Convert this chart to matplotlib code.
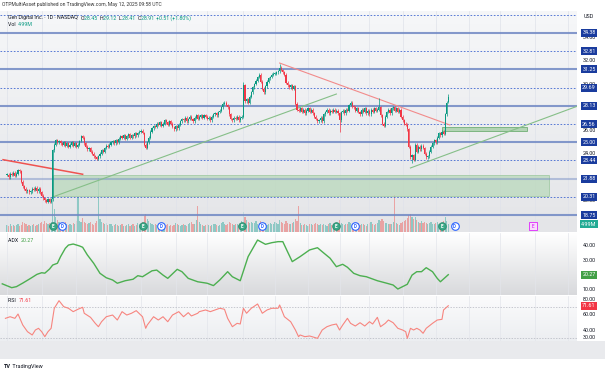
import numpy as np
import matplotlib
matplotlib.use("Agg")
import matplotlib.pyplot as plt
from matplotlib.colors import LinearSegmentedColormap
from matplotlib.patches import Rectangle

# ---------------- data ----------------
month_labels = ["Apr", "May", "Jun", "Jul", "Aug", "Sep", "Oct", "Nov", "Dec", "2025",
                "Feb", "Mar", "Apr", "May", "Jun", "Jul", "Aug", "Sep"]
month_start = [0, 22, 44, 63, 85, 107, 127, 150, 170, 191, 211, 230, 251, 272, 293, 313, 335, 356]

closes = [
    22.2, 22.0, 22.3, 22.2, 22.4, 22.1, 22.3, 22.6, 22.5,
    21.6, 21.2, 21.0, 20.8,
    20.9, 20.7, 20.8, 21.0, 20.9, 21.1, 20.8, 21.0, 20.7,
    20.4, 20.2, 20.0, 19.9, 20.1, 19.9, 20.1,
    24.3,
    24.8, 25.2, 25.0, 25.1, 24.9,
    24.8, 25.0, 24.7, 24.9, 24.6, 24.8, 25.0, 24.7, 24.9, 24.6, 24.8, 25.1,
    25.5, 25.4,
    24.9, 24.6, 24.4, 24.5, 24.2, 24.0, 23.8, 23.7, 23.6,
    23.8, 24.0, 24.3, 24.2, 24.5, 24.7, 24.6, 24.8, 25.0,
    25.1, 24.9, 25.2, 25.0, 25.3, 25.5,
    25.4, 25.6, 25.3, 25.5, 25.7, 25.4, 25.6, 25.5, 25.8, 25.6, 25.8,
    25.9, 26.0, 25.8,
    24.8, 24.5,
    25.0, 25.4, 25.9,
    26.2, 26.4, 26.3, 26.6, 26.5, 26.7, 26.4, 26.6, 26.9, 26.7,
    26.5, 26.8, 26.6, 26.3, 26.1, 26.4, 26.2, 26.5, 26.8, 27.0,
    26.9, 27.1, 26.8, 27.0, 27.2, 27.0, 26.8, 27.1, 27.3, 27.0,
    27.2, 27.3,
    27.1, 27.3, 27.2, 27.0, 27.1, 26.9, 27.2, 27.4, 27.5, 27.3, 27.6, 27.7,
    28.0, 28.3, 28.4, 28.2, 28.0,
    27.4, 27.0, 26.9,
    27.1, 27.0, 27.2, 26.9, 27.1, 27.2,
    29.9,
    28.5, 28.7, 28.4, 28.9,
    29.3, 29.7, 30.0, 30.3, 30.6, 30.8,
    30.2, 29.6, 29.3,
    29.8, 30.2, 30.5, 30.6, 30.8, 30.9,
    30.9, 31.0, 31.1, 31.4,
    31.2, 31.0, 30.8,
    30.1, 29.9, 29.7, 29.9, 29.6, 29.8,
    28.3, 27.8,
    27.7, 27.9, 27.6, 27.8, 27.5, 27.7, 27.9, 27.6, 27.8, 27.5,
    27.2, 27.0, 26.8, 26.9, 27.1, 26.8,
    27.4, 27.6, 27.8, 27.5, 27.7, 27.6, 27.8, 27.6, 27.7, 27.5,
    26.9,
    27.6, 27.7, 27.5, 27.8, 27.7,
    28.2, 28.4, 28.1, 28.0,
    27.7, 27.9, 27.6, 27.4, 27.8, 27.6, 27.9, 27.5, 27.7, 27.4, 27.8, 27.6, 27.9, 27.7, 27.8,
    28.0,
    27.3, 26.6, 26.4,
    27.2, 27.6, 27.8, 27.5, 27.9, 28.0, 27.7, 27.9, 27.6, 27.8,
    27.2, 26.9, 26.6, 26.5,
    26.1, 24.6, 23.7, 23.9, 23.5, 24.8, 24.2, 24.6, 24.4, 24.7, 24.5,
    24.0, 23.7, 23.8, 24.2,
    24.6, 24.9, 25.2, 25.0, 25.4,
    25.8, 25.6, 25.9, 25.7,
    27.4, 28.4, 28.91,
]
last_open = 28.45
special_high = {150: 30.2, 173: 31.75, 236: 28.8, 280: 29.12}
special_low = {211: 25.86, 257: 23.2, 280: 28.41}

volume = [
    4.2, 3.8, 5.1, 3.5, 4.6, 3.9, 4.4, 5.3, 3.7, 4.1, 6.2, 5.4, 4.8, 3.9, 4.5, 3.6, 4.2, 5.0, 3.8, 4.3,
    4.9, 5.6, 6.1, 5.2, 6.8, 5.5, 4.7, 5.9, 6.4, 35.0, 14.2, 9.5, 7.8, 6.3, 5.9, 5.1, 4.8, 6.0, 5.3, 4.6,
    5.2, 4.4, 5.8, 4.9, 6.6, 22.0, 7.1, 6.3, 8.5, 6.2, 5.7, 4.9, 5.5, 6.0, 5.1, 4.6, 5.8, 6.7, 34.0, 8.2,
    6.1, 5.4, 4.8, 5.6, 4.3, 5.0, 4.7, 3.9, 4.5, 5.2, 4.1, 3.8, 4.6, 5.3, 4.0, 3.6, 4.4, 5.1, 3.9, 4.2,
    4.8, 3.7, 4.5, 5.6, 4.9, 5.3, 6.2, 9.8, 11.5, 8.4, 6.9, 5.8, 5.2, 4.6, 5.0, 4.3, 4.7, 3.9, 4.4, 4.1,
    3.8, 4.5, 5.2, 4.0, 4.6, 3.7, 4.3, 5.4, 4.8, 4.1, 3.9, 4.6, 5.1, 4.4, 3.8, 4.7, 5.5, 6.0, 4.9, 5.3,
    7.2, 16.0, 6.1, 4.8, 4.2, 3.9, 4.5, 5.0, 4.3, 3.7, 4.1, 4.8, 5.2, 4.4, 3.9, 4.6, 5.8, 6.3, 5.1, 4.5,
    4.9, 6.4, 5.5, 4.7, 4.2, 4.8, 5.1, 4.4, 5.6, 6.8, 12.5, 9.2, 7.4, 6.1, 5.7, 6.3, 5.4, 5.9, 6.6, 5.2,
    5.8, 6.7, 5.3, 4.9, 5.5, 4.6, 5.0, 5.7, 4.8, 5.2, 6.1, 5.4, 4.9, 7.3, 6.2, 5.6, 5.1, 6.8, 5.9, 5.3,
    4.8, 5.6, 6.3, 8.1, 6.9, 16.0, 5.4, 4.6, 4.1, 5.0, 4.4, 3.9, 4.7, 5.3, 4.2, 4.8, 5.5, 4.9, 4.3, 5.1,
    4.6, 5.2, 4.4, 3.9, 4.7, 5.4, 4.1, 4.8, 5.6, 4.3, 5.0, 7.8, 5.9, 5.1, 4.5, 4.9, 5.3, 6.2, 5.7, 4.8,
    5.1, 4.4, 4.9, 5.5, 4.2, 4.7, 5.3, 4.5, 4.0, 4.8, 5.6, 6.4, 5.2, 4.6, 5.0, 5.8, 7.5, 6.9, 8.2, 6.6,
    5.4, 5.9, 4.8, 5.3, 4.9, 6.1, 23.0, 5.7, 5.0, 4.6, 5.8, 6.3, 6.9, 7.6, 8.8, 10.4, 11.2, 9.6, 8.1, 9.4,
    7.2, 6.5, 5.9, 6.8, 5.6, 6.1, 5.4, 5.0, 5.7, 6.2, 5.3, 4.8, 5.5, 6.0, 5.1, 4.7, 5.9, 6.6, 9.5, 6.8,
    4.99,
]

adx_day = [-3, 3, 6, 10, 15, 19, 22, 24, 27, 29, 32, 34, 37, 39, 42, 46, 48, 51, 55, 59, 63, 67, 70,
           75, 80, 83, 86, 92, 95, 99, 102, 108, 111, 115, 121, 127, 131, 135, 140, 143, 148, 153,
           159, 164, 168, 172, 175, 178, 181, 186, 192, 197, 200, 205, 209, 213, 216, 220, 224, 228,
           235, 241, 245, 248, 254, 257, 260, 263, 266, 270, 273, 275, 280]
adx_val = [14.1, 11.5, 12.2, 14.6, 17.8, 20.5, 21.6, 21.3, 24.1, 26.8, 28.0, 32.5, 38.1, 40.3, 41.0,
           39.7, 38.8, 33.6, 28.0, 21.2, 18.2, 16.7, 14.5, 16.2, 17.2, 19.6, 18.9, 22.9, 23.4, 20.0,
           17.8, 23.9, 22.3, 17.8, 15.5, 14.5, 12.9, 16.7, 22.3, 18.9, 16.2, 32.5, 43.7, 40.8, 41.9,
           42.6, 42.6, 35.8, 29.1, 32.5, 37.0, 38.5, 35.8, 31.4, 25.7, 27.3, 25.3, 21.2, 19.6, 18.9,
           16.2, 14.5, 13.3, 10.6, 13.8, 20.0, 22.3, 22.3, 25.0, 22.3, 17.8, 15.5, 20.27]

rsi_day = [-1, 2, 5, 7, 10, 13, 16, 18, 20, 22, 24, 26, 28, 30, 33, 36, 39, 42, 45, 48, 49, 53, 56,
           58, 60, 63, 67, 70, 73, 76, 79, 82, 86, 88, 89, 93, 96, 99, 102, 105, 109, 112, 115, 117,
           121, 122, 126, 129, 132, 135, 138, 140, 143, 146, 148, 150, 152, 155, 159, 162, 165, 168,
           172, 173, 176, 180, 183, 185, 186, 189, 192, 195, 197, 200, 203, 206, 209, 211, 213, 216,
           218, 221, 224, 227, 230, 232, 235, 237, 240, 242, 245, 248, 251, 253, 254, 256, 258, 260,
           262, 264, 266, 270, 273, 276, 277, 280]
rsi_val = [55.2, 57.3, 55.2, 60.8, 46.5, 37.8, 33.5, 40.0, 42.2, 37.8, 31.3, 37.8, 42.2, 68.3, 78.2,
           70.4, 68.3, 63.9, 67.0, 69.6, 61.8, 56.5, 48.7, 44.3, 50.8, 57.3, 59.5, 53.0, 63.9, 59.5,
           61.8, 65.2, 57.3, 42.2, 46.5, 57.3, 53.0, 57.3, 50.8, 59.5, 63.9, 57.3, 62.6, 58.3, 61.8,
           63.9, 66.1, 63.9, 66.1, 68.3, 67.0, 55.2, 44.3, 48.7, 47.8, 68.3, 61.8, 68.3, 73.9, 61.8,
           66.1, 68.3, 68.3, 72.6, 57.3, 50.8, 40.0, 31.3, 33.5, 31.3, 32.2, 30.4, 29.1, 40.0, 44.3,
           46.5, 47.8, 40.0, 46.5, 55.2, 48.7, 45.2, 49.5, 45.2, 50.8, 47.8, 56.5, 44.3, 48.7, 53.0,
           49.5, 42.2, 40.0, 37.8, 29.1, 42.2, 40.0, 42.2, 40.0, 35.7, 42.2, 48.7, 53.0, 53.9, 66.1,
           71.61]

solid_levels = [34.38, 31.25, 28.13, 25.00, 21.88, 18.75]
dashed_levels = [32.81, 29.69, 26.56, 23.44, 20.31]
top_dashed_level = 35.94
price_ticks = [20, 22, 24, 26, 28, 30, 32, 34]
earn_day = [29, 86, 149, 209, 276]
div_day = [35, 98, 162, 221, 284]
future_earn_day = [334]
zone_big = (29, 344, 20.35, 22.2)
zone_small = (276, 330, 25.95, 26.3)
trend_down = ([173, 281], [31.8, 26.48])
trend_down_left = ([-2.5, 48], [23.5, 22.25])
trend_up_a = ([29, 209], [20.3, 29.14])
trend_up_b = ([256, 362], [22.79, 28.1])

# ---------------- layout ----------------
W, H = 605, 374
plt.rcParams['font.family'] = ['Roboto', 'DejaVu Sans']
fig = plt.figure(figsize=(W / 100, H / 100), dpi=100)
fig.patch.set_facecolor('white')


def add_ax(l, t, r, b):
    a = fig.add_axes([l / W, 1 - b / H, (r - l) / W, (b - t) / H])
    for s in a.spines.values():
        s.set_visible(False)
    a.set_xticks([])
    a.set_yticks([])
    return a


PX_BAR = 1.576
X0 = 7.0
PANE_R = 577
xlim = (-X0 / PX_BAR, (PANE_R - X0) / PX_BAR)


def gradient(a, top, bottom):
    cmap = LinearSegmentedColormap.from_list('g', [bottom, top])
    xl, yl = a.get_xlim(), a.get_ylim()
    a.imshow(np.linspace(0, 1, 256).reshape(-1, 1), aspect='auto', cmap=cmap, origin='lower',
             extent=(xl[0], xl[1], yl[0], yl[1]), zorder=0)
    a.set_xlim(xl)
    a.set_ylim(yl)


# time-axis band
fig.patches.append(Rectangle((0, 1 - 359 / H), 1, 18 / H, transform=fig.transFigure,
                             facecolor='#e9eaed', edgecolor='none', zorder=0))

# ---------- main pane ----------
axv = add_ax(0, 11, PANE_R, 232)
axv.set_xlim(xlim)
axv.set_ylim(0, 221 / 1.6)
gradient(axv, '#f6f7f9', '#e4e5e8')
n = len(closes)
idx = np.arange(n)
c = np.array(closes)
o = np.r_[c[0], c[:-1]]
o[-1] = last_open
up = c >= o
vcol = np.where(up, '#26a69a', '#ef5350')
axv.bar(idx, volume, width=0.75, color=vcol, alpha=0.45, zorder=1, linewidth=0)

ax = add_ax(0, 11, PANE_R, 232)
ax.patch.set_visible(False)
ax.set_xlim(xlim)
ptop = 34.38 + 22 / 11.645
pbot = 34.38 - 199 / 11.645
ax.set_ylim(pbot, ptop)

for m in month_start:
    ax.axvline(m, color='#dfe2ea', lw=0.5, zorder=1)

# zones
zb = zone_big
ax.add_patch(Rectangle((zb[0], zb[2]), zb[1] - zb[0], zb[3] - zb[2], facecolor='#b9d8bb',
                       edgecolor='#9cc79f', lw=0.7, alpha=0.75, zorder=2))
zs = zone_small
ax.add_patch(Rectangle((zs[0], zs[2]), zs[1] - zs[0], zs[3] - zs[2], facecolor='#a9d0ab',
                       edgecolor='#6fae73', lw=0.7, alpha=0.85, zorder=2))

# levels
for lv in solid_levels:
    alpha = 0.45 if lv == 21.88 else 0.85
    ax.axhline(lv, color='#7088c4', lw=1.5, alpha=alpha, zorder=3)
for lv in dashed_levels + [top_dashed_level]:
    ax.axhline(lv, color='#3f66d0', lw=0.6, dashes=(2.0, 2.0), zorder=3)

# trend lines
ax.plot(*trend_down, color='#f28b8b', lw=0.8, zorder=4)
ax.plot(*trend_down_left, color='#ef5350', lw=1.1, zorder=4)
ax.plot(*trend_up_a, color='#86bf88', lw=0.8, zorder=4)
ax.plot(*trend_up_b, color='#86bf88', lw=0.8, zorder=4)

# candles
hi = np.maximum(o, c) + 0.12
lo = np.minimum(o, c) - 0.12
for k, v in special_high.items():
    hi[k] = v
for k, v in special_low.items():
    lo[k] = v
ccol = np.where(up, '#089981', '#f23645')
ax.vlines(idx, lo, hi, colors=ccol, lw=0.5, zorder=5)
body = np.where(np.abs(c - o) < 0.05, 0.05, c - o)
ax.bar(idx, body, bottom=o, width=0.7, color=ccol, linewidth=0, zorder=6)

# event markers
ytr = ax.get_xaxis_transform()
ev_y = 0.025
for d in earn_day:
    ax.scatter([d], [ev_y], s=30, marker='o', facecolor='#3aa887', edgecolor='#2a8a6c', lw=0.6,
               transform=ytr, zorder=8, clip_on=False)
    ax.text(d, ev_y, 'E', transform=ytr, ha='center', va='center', fontsize=3.3, color='white',
            zorder=9, fontweight='bold')
for d in div_day:
    ax.scatter([d], [ev_y], s=30, marker='o', facecolor='white', edgecolor='#2962ff', lw=0.8,
               transform=ytr, zorder=8, clip_on=False)
    ax.text(d, ev_y, 'D', transform=ytr, ha='center', va='center', fontsize=3.3, color='#2962ff',
            zorder=9, fontweight='bold')
for d in future_earn_day:
    ax.scatter([d], [ev_y], s=26, marker='s', facecolor='#f8dcfb', edgecolor='#e040fb', lw=0.7,
               transform=ytr, zorder=8, clip_on=False)
    ax.text(d, ev_y, 'E', transform=ytr, ha='center', va='center', fontsize=3.3, color='#d500f9',
            zorder=9)

# right price axis
yt = ax.get_yaxis_transform()
LX = 589 / PANE_R
for t in price_ticks:
    ax.text(LX, t, f"{t:.2f}", transform=yt, ha='center', va='center', fontsize=3.9,
            color='#131722', clip_on=False, zorder=10)
for lv in solid_levels + dashed_levels:
    ax.text(LX, lv, f"{lv:.2f}", transform=yt, ha='center', va='center', fontsize=3.9,
            color='white', clip_on=False, zorder=11,
            bbox=dict(boxstyle='square,pad=0.28', fc='#1a3c9e', ec='none'))
ax.text(LX, 1 - 6 / 221, 'USD', transform=ax.transAxes, ha='center', va='center', fontsize=3.9,
        color='#131722', clip_on=False)
axv.text(LX, volume[-1], '4.99M', transform=axv.get_yaxis_transform(), ha='center', va='center',
         fontsize=3.9, color='white', clip_on=False, zorder=11,
         bbox=dict(boxstyle='square,pad=0.28', fc='#22ab94', ec='none'))

# ---------- ADX pane ----------
axa = add_ax(0, 233, PANE_R, 295)
axa.set_xlim(xlim)
axa.set_ylim(40 - (295 - 245.5) / 1.48, 40 + (245.5 - 233) / 1.48)
gradient(axa, '#ffffff', '#d8d9dc')
for m in month_start:
    axa.axvline(m, color='#e3e5eb', lw=0.5, zorder=1)
axa.plot(adx_day, adx_val, color='#4caf50', lw=1.0, zorder=3)
yta = axa.get_yaxis_transform()
for t in [40, 30, 10]:
    axa.text(LX, t, f"{t:.2f}", transform=yta, ha='center', va='center', fontsize=3.9,
             color='#131722', clip_on=False)
axa.text(LX, adx_val[-1], f"{adx_val[-1]:.2f}", transform=yta, ha='center', va='center',
         fontsize=3.9, color='white', clip_on=False,
         bbox=dict(boxstyle='square,pad=0.28', fc='#43a047', ec='none'))

# ---------- RSI pane ----------
axr = add_ax(0, 296, PANE_R, 341)
axr.set_xlim(xlim)
axr.set_ylim(80 - (341 - 299.3) / 0.7675, 80 + (299.3 - 296) / 0.7675)
gradient(axr, '#fbfbfc', '#eceef1')
for m in month_start:
    axr.axvline(m, color='#e3e5eb', lw=0.5, zorder=1)
for lv in [70, 30]:
    axr.axhline(lv, color='#b2b5be', lw=0.5, dashes=(2, 2), zorder=2)
axr.plot(rsi_day, rsi_val, color='#f7857f', lw=0.8, zorder=3)
ytr2 = axr.get_yaxis_transform()
for t in [80, 60, 40, 30]:
    axr.text(LX, t, f"{t:.2f}", transform=ytr2, ha='center', va='center', fontsize=3.9,
             color='#131722', clip_on=False)
axr.text(LX, rsi_val[-1], f"{rsi_val[-1]:.2f}", transform=ytr2, ha='center', va='center',
         fontsize=3.9, color='white', clip_on=False,
         bbox=dict(boxstyle='square,pad=0.28', fc='#f23645', ec='none'))

# time labels
xt = axr.get_xaxis_transform()
for m, lab in zip(month_start, month_labels):
    axr.text(m, -11 / 45, lab, transform=xt, ha='center', va='center', fontsize=3.9,
             color='#131722', clip_on=False, fontweight='bold' if lab == '2025' else 'normal')

# ---------- text overlays ----------
renderer = fig.canvas.get_renderer()


def chain(x, y, pieces, size=3.8):
    for txt, col, bold in pieces:
        t = fig.text(x / W, 1 - y / H, txt, fontsize=size, color=col, va='center', ha='left',
                     fontweight='bold' if bold else 'normal', zorder=20)
        x += t.get_window_extent(renderer).width


dark = '#131722'
grn = '#089981'
chain(2, 4.5, [("OTPMultiAsset published on TradingView.com, May 12, 2025 09:58 UTC", '#333333', False)], 3.6)
chain(8, 18, [("Gen Digital Inc. · 1D · NASDAQ  ", dark, False), ("O", dark, False), ("28.45  ", grn, False),
              ("H", dark, False), ("29.12  ", grn, False), ("L", dark, False), ("28.41  ", grn, False),
              ("C", dark, False), ("28.91  ", grn, False), ("+0.51 (+1.80%)", grn, False)])
chain(8, 25, [("Vol  ", dark, False), ("4.99M", grn, False)])
chain(8, 240, [("ADX  ", dark, False), ("20.27", '#43a047', False)])
chain(8, 300.5, [("RSI  ", dark, False), ("71.61", '#f23645', False)])
chain(4, 366.5, [("TV", dark, True), (" TradingView", dark, False)], 4.0)

fig.savefig('out.png', dpi=100)
